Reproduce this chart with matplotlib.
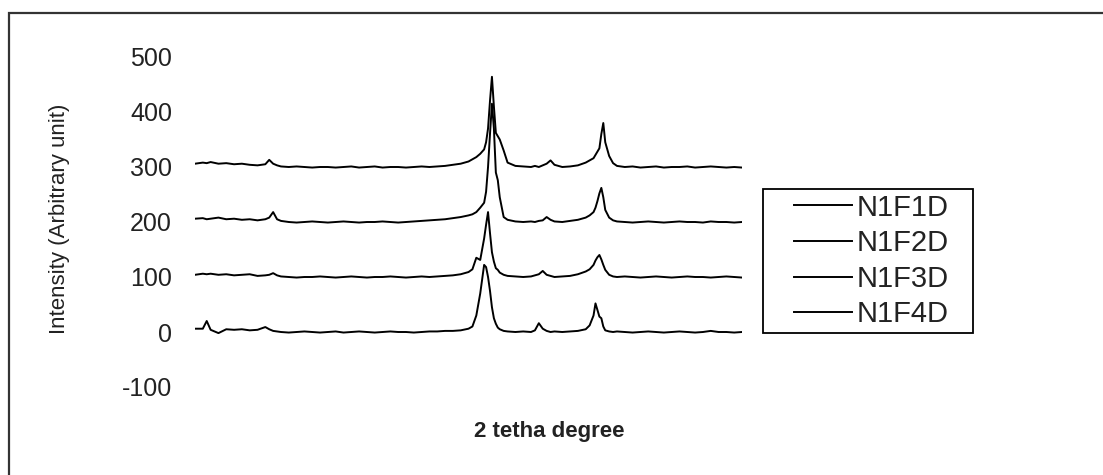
import matplotlib
matplotlib.use('Agg')
import matplotlib.pyplot as plt
from matplotlib.patches import Rectangle

plt.rcParams['font.family'] = ['Liberation Sans', 'DejaVu Sans']
plt.rcParams['axes.unicode_minus'] = False

# 2 theta grid (deg), finer around the peaks
two_theta = [
    10, 11, 11.5, 12, 13, 14, 15, 16, 17, 18,
    19, 19.5, 20, 20.5, 21, 22, 23, 24, 25, 26,
    27, 28, 29, 30, 31, 32, 33, 34, 35, 36,
    37, 38, 39, 40, 41, 42, 43, 44, 45, 45.5,
    46, 46.5, 47, 47.25, 47.5, 47.75, 48, 48.25, 48.5, 48.75,
    49, 49.5, 50, 51, 52, 53, 53.5, 54, 54.5, 55,
    55.5, 56, 57, 58, 59, 60, 60.5, 61, 61.25, 61.5,
    61.75, 62, 62.25, 62.5, 63, 63.5, 64, 65, 66, 67,
    68, 69, 70, 71, 72, 73, 74, 75, 76, 77,
    78, 79, 80,
]

# intensities (before stacking offset)
n1f1d = [
    6, 8, 7, 9, 6, 7, 5, 6, 4, 3,
    5, 13, 6, 3, 1, 0, 1, 0, -1, 0,
    0, -1, 0, 1, -1, 0, 1, -1, 0, 0,
    -1, 0, 1, 0, 1, 2, 4, 6, 10, 14,
    18, 24, 32, 45, 70, 120, 164, 110, 62, 56,
    50, 30, 8, 2, 1, 0, 2, 0, 3, 6,
    12, 4, 0, 1, 3, 8, 12, 16, 22, 28,
    34, 60, 80, 45, 20, 7, 2, 0, 1, -1,
    0, 1, -1, 0, 0, 1, -1, 0, 1, 0,
    -1, 0, -1,
]
n1f2d = [
    6, 7, 5, 6, 8, 5, 6, 4, 5, 3,
    5, 8, 18, 5, 2, 0, -1, 0, 1, 0,
    -1, 0, 1, 0, -1, 0, 0, 1, 0, -1,
    0, 1, 2, 3, 4, 5, 7, 9, 12, 14,
    18, 26, 35, 55, 100, 160, 215, 170, 90, 76,
    45, 9, 4, 1, 0, 1, 0, 2, 3, 9,
    4, 1, 0, 2, 4, 8, 12, 18, 26, 38,
    52, 62, 45, 22, 8, 3, 1, 0, -1, 0,
    1, 0, -1, 0, 1, 0, 0, -1, 1, 0,
    0, -1, 0,
]
n1f3d = [
    4, 6, 5, 6, 4, 5, 3, 4, 5, 2,
    3, 4, 7, 3, 1, 0, -1, 0, 0, 1,
    0, -1, 0, 1, 0, -1, 0, 0, 1, 0,
    -1, 0, 1, 0, 1, 2, 3, 5, 9, 14,
    35, 31, 70, 95, 118, 80, 45, 28, 16, 13,
    8, 4, 2, 1, 0, 1, 3, 5, 11, 4,
    2, 0, 1, 2, 5, 10, 14, 22, 30, 36,
    40, 32, 22, 13, 4, 1, 0, 1, 0, -1,
    0, 1, 0, -1, 0, 1, 0, 0, -1, 0,
    1, 0, -1,
]
n1f4d = [
    6, 6, 20, 4, -2, 5, 4, 5, 3, 4,
    9, 5, 2, 1, 0, -1, 0, 1, 0, -1,
    0, 1, -1, 0, 1, 0, -1, 0, 1, 0,
    0, -1, 0, 1, 1, 2, 2, 3, 6, 10,
    30, 70, 122, 118, 100, 75, 45, 25, 15, 8,
    5, 2, 1, 0, 1, 0, 3, 16, 6, 2,
    0, 1, 0, 1, 2, 5, 12, 30, 52, 40,
    28, 25, 10, 3, 1, 0, 1, 0, -1, 0,
    1, 0, -1, 0, 1, 0, -1, 0, 2, 0,
    0, -1, 0,
]

labels = ['N1F1D', 'N1F2D', 'N1F3D', 'N1F4D']
offsets = [300, 200, 100, 0]
series = [n1f1d, n1f2d, n1f3d, n1f4d]

W, H = 1103, 475
fig = plt.figure(figsize=(W / 100, H / 100), dpi=100)
ax = fig.add_axes([195 / W, 88 / H, 547 / W, 330 / H])

for name, vals, off in zip(labels, series, offsets):
    ax.plot(two_theta, [v + off for v in vals], color='black', lw=1.4, label=name)

ax.set_xlim(10, 80)
ax.set_ylim(-100, 500)
ax.set_yticks(range(-100, 501, 100))
ax.set_xticks([])
ax.tick_params(axis='y', length=0, pad=16.5, labelsize=18, labelcolor='#222222')
for s in ax.spines.values():
    s.set_visible(False)
ax.patch.set_visible(False)

# legend box drawn by hand, entries centred in it
box = (763, 189, 973, 333)
fig.patches.append(Rectangle((box[0] / W, 1 - box[3] / H), (box[2] - box[0]) / W,
                             (box[3] - box[1]) / H, transform=fig.transFigure,
                             fill=False, edgecolor='black', lw=1.3))
ax.legend(loc='center', bbox_to_anchor=((box[0] + box[2]) / 2 / W + 0.003,
                                        1 - (box[1] + box[3]) / 2 / H),
          bbox_transform=fig.transFigure, frameon=False, fontsize=21,
          handlelength=2.0, handletextpad=0.15, labelspacing=0.26, borderpad=0,
          labelcolor='#222222')

fig.text(60 / W, 1 - 219 / H, 'Intensity (Arbitrary unit)', rotation=90,
         ha='center', va='center', fontsize=16, color='#222222')
fig.text(549 / W, 1 - 432 / H, '2 tetha degree', ha='center', va='center',
         fontsize=16, fontweight='bold', color='#222222')

# outer frame around the chart
fig.patches.append(Rectangle((9 / W, -0.05), 1.0, (H - 13) / H + 0.05,
                             transform=fig.transFigure, fill=False,
                             edgecolor='#333333', lw=1.6))

fig.savefig('out.png', dpi=100)
